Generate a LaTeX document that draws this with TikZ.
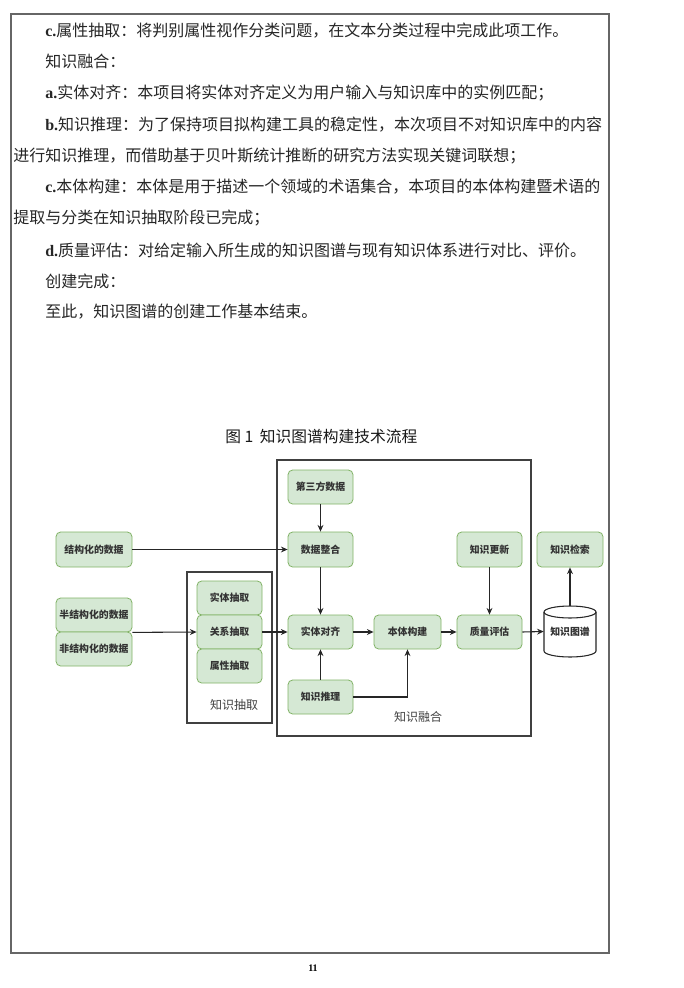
\documentclass[tikz,border=0pt]{standalone}
\usepackage{fontspec}
\newfontfamily\cjk{Noto Sans CJK SC}
\newfontfamily\tnr{Liberation Serif}
\usetikzlibrary{arrows.meta}
\XeTeXlinebreaklocale "zh"
\XeTeXlinebreakskip=0pt plus 3pt
\definecolor{boxfill}{HTML}{D5E8D4}
\definecolor{boxline}{HTML}{82B366}
\newcommand\latpre[1]{{\tnr\bfseries #1}}
\begin{document}
\begin{tikzpicture}[x=0.75pt,y=-0.75pt,
  body/.style={anchor=west,inner sep=0pt,font=\cjk\fontsize{12}{14}\selectfont,text=black!85},
  flowbox/.style={draw=boxline,fill=boxfill,rounded corners=3.5pt,line width=0.6pt,inner sep=0pt,
    minimum width=48.75pt,minimum height=25.5pt,font=\cjk\bfseries\fontsize{7.4}{9}\selectfont,text=black!80},
  framebox/.style={draw=black!75,line width=1.1pt},
  conn/.style={draw=black!85,line width=0.8pt,-{Stealth[length=5pt,width=4.4pt]}},
  lbl/.style={font=\cjk\fontsize{9}{11}\selectfont,text=black!75,inner sep=0pt}]
\fill[white] (0,0) rectangle (684,988);
\useasboundingbox (0,0) rectangle (684,988);
% page frame
\draw[line width=1.1pt,draw=black!60] (11,14) rectangle (609,953);
\node[font=\tnr\bfseries\fontsize{7.5}{9}\selectfont,inner sep=0pt] (pg) at (313,968) {11};
% body text
\node[body] (l1) at (45,31) {\latpre{c.}属性抽取：将判别属性视作分类问题，在文本分类过程中完成此项工作。};
\node[body] (l2) at (45,61) {知识融合：};
\node[body] (l3) at (45,93) {\latpre{a.}实体对齐：本项目将实体对齐定义为用户输入与知识库中的实例匹配；};
\node[body] (l4) at (45,125) {\makebox[418.5pt][s]{\latpre{b.}知识推理：为了保持项目拟构建工具的稳定性，本次项目不对知识库中的内容}};
\node[body] (l5) at (13,156) {进行知识推理，而借助基于贝叶斯统计推断的研究方法实现关键词联想；};
\node[body] (l6) at (45,187) {\makebox[418.5pt][s]{\latpre{c.}本体构建：本体是用于描述一个领域的术语集合，本项目的本体构建暨术语的}};
\node[body] (l7) at (13,218) {提取与分类在知识抽取阶段已完成；};
\node[body] (l8) at (45,250) {\latpre{d.}质量评估：对给定输入所生成的知识图谱与现有知识体系进行对比、评价。};
\node[body] (l9) at (45,281) {创建完成：};
\node[body] (l10) at (45,312) {至此，知识图谱的创建工作基本结束。};
% title
\node[anchor=west,inner sep=0pt,font=\cjk\fontsize{11.8}{14}\selectfont,text=black!90] (title) at (225,437) {图 1\hspace{5pt}知识图谱构建技术流程};
% frames
\draw[framebox] (187,572) rectangle (272,723);
\draw[framebox] (277,460) rectangle (531,736);
\node[lbl] (lex) at (234,705) {知识抽取};
\node[lbl] (lfu) at (418,717) {知识融合};
% data sources
\node[flowbox,minimum width=57pt,minimum height=26.25pt] (s1) at (94,549.5) {结构化的数据};
\node[flowbox,minimum width=57pt] (s2) at (94,615) {半结构化的数据};
\node[flowbox,minimum width=57pt] (s3) at (94,649) {非结构化的数据};
% extraction
\node[flowbox] (ent) at (229.5,598) {实体抽取};
\node[flowbox] (rel) at (229.5,632) {关系抽取};
\node[flowbox] (attr) at (229.5,666) {属性抽取};
% fusion
\node[flowbox] (third) at (320.5,487) {第三方数据};
\node[flowbox,minimum height=26.25pt] (integ) at (320.5,549.5) {数据整合};
\node[flowbox] (align) at (320.5,632) {实体对齐};
\node[flowbox] (reason) at (320.5,697) {知识推理};
\node[flowbox,minimum width=50.25pt] (onto) at (407.5,632) {本体构建};
\node[flowbox] (qa) at (489.5,632) {质量评估};
\node[flowbox,minimum height=26.25pt] (upd) at (489.5,549.5) {知识更新};
\node[flowbox,minimum width=49.5pt,minimum height=26.25pt] (ret) at (570,549.5) {知识检索};
% cylinder
\filldraw[fill=white,draw=black!85,line width=0.8pt] (544,612) -- (544,651)
  arc[start angle=180,end angle=360,x radius=19.5pt,y radius=4.5pt] -- (596,612)
  arc[start angle=0,end angle=180,x radius=19.5pt,y radius=4.5pt] -- cycle;
\draw[draw=black!85,line width=0.8pt] (544,612) arc[start angle=180,end angle=360,x radius=19.5pt,y radius=4.5pt];
\node[inner sep=0pt,minimum width=39pt,minimum height=38.25pt,font=\cjk\bfseries\fontsize{7.4}{9}\selectfont,text=black!80] (kg) at (570,631.5) {知识图谱};
% connectors
\draw[conn] (s1.east) -- (integ.west);
\draw[conn] (s2.south east) -- (rel.west);
\draw[conn] (rel.east) -- (align.west);
\draw[conn] (third.south) -- (integ.north);
\draw[conn] (integ.south) -- (align.north);
\draw[conn] (reason.north) -- (align.south);
\draw[conn] (reason.east) -| (onto.south);
\draw[conn] (align.east) -- (onto.west);
\draw[conn] (onto.east) -- (qa.west);
\draw[conn] (upd.south) -- (qa.north);
\draw[conn] (qa.east) -- (kg.west);
\draw[conn] (kg.north) -- (ret.south);
\end{tikzpicture}
\end{document}
